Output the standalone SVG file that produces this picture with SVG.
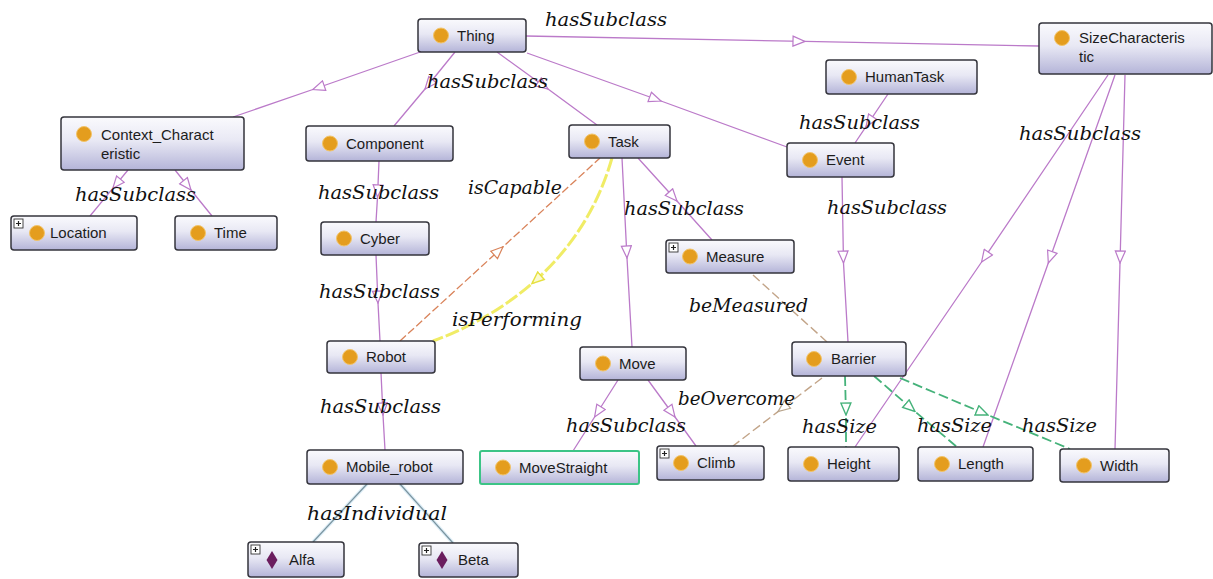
<svg xmlns="http://www.w3.org/2000/svg" width="1213" height="579" viewBox="0 0 1213 579">
  <defs>
    <linearGradient id="nodeFill" x1="0" y1="0" x2="0" y2="1">
      <stop offset="0" stop-color="#fafafd"/>
      <stop offset="0.45" stop-color="#e8e8f4"/>
      <stop offset="1" stop-color="#b4b4d8"/>
    </linearGradient>
    <marker id="triSub" viewBox="0 0 14 12" markerWidth="14" markerHeight="12" refX="13" refY="6" orient="auto" markerUnits="userSpaceOnUse">
      <path d="M1,1 L13,6 L1,11 Z" fill="#ffffff" stroke="#bb7ac9" stroke-width="1.2"/>
    </marker>
    <marker id="triCap" viewBox="0 0 14 12" markerWidth="14" markerHeight="12" refX="13" refY="6" orient="auto" markerUnits="userSpaceOnUse">
      <path d="M1,1 L13,6 L1,11 Z" fill="#ffffff" stroke="#d9835a" stroke-width="1.2"/>
    </marker>
    <marker id="triPerf" viewBox="0 0 14 12" markerWidth="14" markerHeight="12" refX="13" refY="6" orient="auto" markerUnits="userSpaceOnUse">
      <path d="M1,1 L13,6 L1,11 Z" fill="#fbfbd0" stroke="#e6e040" stroke-width="1.4"/>
    </marker>
    <marker id="triTan" viewBox="0 0 14 12" markerWidth="14" markerHeight="12" refX="13" refY="6" orient="auto" markerUnits="userSpaceOnUse">
      <path d="M1,1 L13,6 L1,11 Z" fill="#ffffff" stroke="#b8a48c" stroke-width="1.2"/>
    </marker>
    <marker id="triSize" viewBox="0 0 14 12" markerWidth="14" markerHeight="12" refX="13" refY="6" orient="auto" markerUnits="userSpaceOnUse">
      <path d="M1,1 L13,6 L1,11 Z" fill="#ffffff" stroke="#45b27a" stroke-width="1.4"/>
    </marker>
  </defs>
  <style>
    .box { fill: url(#nodeFill); stroke: #34343c; stroke-width: 1.5; }
    .sel { stroke: #3cc486; stroke-width: 2; }
    .cls { fill: #e49d1e; stroke: #f2c46a; stroke-width: 1; }
    .ind { fill: #6b1d5e; }
    .plus rect { fill: #ffffff; stroke: #333333; stroke-width: 0.9; }
    .plus path { stroke: #222222; stroke-width: 1.2; fill: none; }
    .name { font-family: "Liberation Sans", Arial, sans-serif; font-size: 15px; fill: #1c1c1c; }
    .lbl { font-family: "DejaVu Serif", "Liberation Serif", serif; font-style: italic; font-size: 19px; fill: #111111; }
    .sub { fill: none; stroke: #bb7ac9; stroke-width: 1.3; marker-mid: url(#triSub); }
    .cap { fill: none; stroke: #d9835a; stroke-width: 1.3; stroke-dasharray: 8 3; marker-mid: url(#triCap); }
    .perf { fill: none; stroke: #f0ec66; stroke-width: 3; stroke-dasharray: 14 3; marker-mid: url(#triPerf); }
    .tan { fill: none; stroke: #c2a488; stroke-width: 1.4; stroke-dasharray: 9 4; }
    .tanArr { marker-mid: url(#triTan); }
    .size { fill: none; stroke: #45b27a; stroke-width: 1.8; stroke-dasharray: 10 4; marker-mid: url(#triSize); }
    .indHalo { fill: none; stroke: #dcedf7; stroke-width: 3.5; }
    .indLine { fill: none; stroke: #7a939e; stroke-width: 1.2; }
  </style>

  <rect x="0" y="0" width="1213" height="579" fill="#ffffff"/>

  <!-- connectors -->
  <g id="connectors">
    <!-- hasSubclass -->
    <polyline class="sub" points="526,36 805,41.4 1039,46"/>
    <polyline class="sub" points="423,51 312.8,89.5 233,117"/>
    <polyline class="sub" points="455,52 425,89 394,126"/>
    <polyline class="sub" points="497,52 548,89 597,125"/>
    <polyline class="sub" points="527,53 661,101 787,147"/>
    <polyline class="sub" points="888,94 866,126.7 855,143"/>
    <polyline class="sub" points="842,177 843.5,263 848,342"/>
    <polyline class="sub" points="1108,75 981.6,262 855,447"/>
    <polyline class="sub" points="1115,75 1048.3,263 983,447"/>
    <polyline class="sub" points="1125,75 1120,263 1115,449"/>
    <polyline class="sub" points="128,170 112.8,188.4 90,216"/>
    <polyline class="sub" points="175,170 191,190 212,216"/>
    <polyline class="sub" points="379,161 377.5,197 376,222"/>
    <polyline class="sub" points="376,255 378,303 380,341"/>
    <polyline class="sub" points="381,373 383,415 385,450"/>
    <polyline class="sub" points="622,158 627,258 632,347"/>
    <polyline class="sub" points="638,158 677,201 712,240"/>
    <polyline class="sub" points="618,380 594.6,417 573,451"/>
    <polyline class="sub" points="648,380 675,417 696,446"/>

    <!-- isCapable -->
    <polyline class="cap" points="400,341 503,246.8 600,158"/>
    <!-- isPerforming -->
    <path class="perf" d="M612,158 C596,214 565.5,254.5 531.9,283.6 C498.25,312.75 461.5,330.5 433,341"/>
    <!-- beMeasured -->
    <line class="tan" x1="753" y1="275" x2="827" y2="342"/>
    <!-- beOvercome -->
    <polyline class="tan tanArr" points="822,378 778,411.6 733,446"/>

    <!-- hasSize -->
    <polyline class="size" points="845,376 846,415 846,447"/>
    <polyline class="size" points="874,376 915,411.5 957,447"/>
    <polyline class="size" points="900,378 988,415 1070,449"/>

    <!-- hasIndividual -->
    <line class="indHalo" x1="367" y1="484" x2="313" y2="542"/>
    <line class="indHalo" x1="400" y1="484" x2="453" y2="543"/>
    <line class="indLine" x1="367" y1="484" x2="313" y2="542"/>
    <line class="indLine" x1="400" y1="484" x2="453" y2="543"/>
  </g>

  <!-- edge labels -->
  <g id="edge-labels">
    <text class="lbl" x="545" y="26" textLength="122" lengthAdjust="spacingAndGlyphs">hasSubclass</text>
    <text class="lbl" x="427" y="88" textLength="121" lengthAdjust="spacingAndGlyphs">hasSubclass</text>
    <text class="lbl" x="799" y="129" textLength="121" lengthAdjust="spacingAndGlyphs">hasSubclass</text>
    <text class="lbl" x="1019" y="140" textLength="122" lengthAdjust="spacingAndGlyphs">hasSubclass</text>
    <text class="lbl" x="75" y="201" textLength="121" lengthAdjust="spacingAndGlyphs">hasSubclass</text>
    <text class="lbl" x="318" y="199" textLength="121" lengthAdjust="spacingAndGlyphs">hasSubclass</text>
    <text class="lbl" x="468" y="194" textLength="94" lengthAdjust="spacingAndGlyphs">isCapable</text>
    <text class="lbl" x="624" y="215" textLength="120" lengthAdjust="spacingAndGlyphs">hasSubclass</text>
    <text class="lbl" x="827" y="214" textLength="120" lengthAdjust="spacingAndGlyphs">hasSubclass</text>
    <text class="lbl" x="319" y="298" textLength="121" lengthAdjust="spacingAndGlyphs">hasSubclass</text>
    <text class="lbl" x="452" y="326" textLength="130" lengthAdjust="spacingAndGlyphs">isPerforming</text>
    <text class="lbl" x="689" y="312" textLength="119" lengthAdjust="spacingAndGlyphs">beMeasured</text>
    <text class="lbl" x="320" y="413" textLength="121" lengthAdjust="spacingAndGlyphs">hasSubclass</text>
    <text class="lbl" x="678" y="405" textLength="117" lengthAdjust="spacingAndGlyphs">beOvercome</text>
    <text class="lbl" x="566" y="432" textLength="120" lengthAdjust="spacingAndGlyphs">hasSubclass</text>
    <text class="lbl" x="802" y="433" textLength="75" lengthAdjust="spacingAndGlyphs">hasSize</text>
    <text class="lbl" x="917" y="432" textLength="75" lengthAdjust="spacingAndGlyphs">hasSize</text>
    <text class="lbl" x="1022" y="432" textLength="75" lengthAdjust="spacingAndGlyphs">hasSize</text>
    <text class="lbl" x="307" y="520" textLength="140" lengthAdjust="spacingAndGlyphs">hasIndividual</text>
  </g>

  <!-- nodes -->
  <g id="node-thing">
    <rect class="box" x="418" y="19" width="108" height="33" rx="3"/>
    <circle class="cls" cx="441" cy="35.5" r="7.5"/>
    <text class="name" x="457" y="41">Thing</text>
  </g>
  <g id="node-sizecharacteristic">
    <rect class="box" x="1039" y="23" width="173" height="51" rx="3"/>
    <circle class="cls" cx="1062" cy="38" r="7.5"/>
    <text class="name" x="1079" y="43">SizeCharacteris</text>
    <text class="name" x="1079" y="62">tic</text>
  </g>
  <g id="node-humantask">
    <rect class="box" x="826" y="60" width="151" height="34" rx="3"/>
    <circle class="cls" cx="849" cy="77" r="7.5"/>
    <text class="name" x="865" y="82">HumanTask</text>
  </g>
  <g id="node-context-characteristic">
    <rect class="box" x="61" y="117" width="183" height="53" rx="3"/>
    <circle class="cls" cx="84" cy="134" r="7.5"/>
    <text class="name" x="101" y="140">Context_Charact</text>
    <text class="name" x="101" y="159">eristic</text>
  </g>
  <g id="node-component">
    <rect class="box" x="306" y="126" width="147" height="35" rx="3"/>
    <circle class="cls" cx="330" cy="143.5" r="7.5"/>
    <text class="name" x="346" y="149">Component</text>
  </g>
  <g id="node-task">
    <rect class="box" x="569" y="125" width="101" height="33" rx="3"/>
    <circle class="cls" cx="592" cy="141.5" r="7.5"/>
    <text class="name" x="608" y="147">Task</text>
  </g>
  <g id="node-event">
    <rect class="box" x="787" y="143" width="107" height="34" rx="3"/>
    <circle class="cls" cx="810" cy="160" r="7.5"/>
    <text class="name" x="826" y="165">Event</text>
  </g>
  <g id="node-location">
    <rect class="box" x="11" y="216" width="126" height="34" rx="3"/>
    <g class="plus"><rect x="14" y="219" width="9" height="9"/><path d="M16,223.5 H21 M18.5,221 V226"/></g>
    <circle class="cls" cx="37" cy="233" r="7.5"/>
    <text class="name" x="50" y="238">Location</text>
  </g>
  <g id="node-time">
    <rect class="box" x="175" y="216" width="102" height="34" rx="3"/>
    <circle class="cls" cx="198" cy="233" r="7.5"/>
    <text class="name" x="214" y="238">Time</text>
  </g>
  <g id="node-cyber">
    <rect class="box" x="321" y="222" width="108" height="33" rx="3"/>
    <circle class="cls" cx="344" cy="238.5" r="7.5"/>
    <text class="name" x="360" y="244">Cyber</text>
  </g>
  <g id="node-measure">
    <rect class="box" x="666" y="240" width="128" height="33" rx="3"/>
    <g class="plus"><rect x="669" y="243" width="9" height="9"/><path d="M671,247.5 H676 M673.5,245 V250"/></g>
    <circle class="cls" cx="690" cy="256.5" r="7.5"/>
    <text class="name" x="706" y="262">Measure</text>
  </g>
  <g id="node-robot">
    <rect class="box" x="327" y="341" width="108" height="32" rx="3"/>
    <circle class="cls" cx="350" cy="357" r="7.5"/>
    <text class="name" x="366" y="362">Robot</text>
  </g>
  <g id="node-move">
    <rect class="box" x="580" y="347" width="106" height="33" rx="3"/>
    <circle class="cls" cx="603" cy="363.5" r="7.5"/>
    <text class="name" x="619" y="369">Move</text>
  </g>
  <g id="node-barrier">
    <rect class="box" x="792" y="342" width="114" height="34" rx="3"/>
    <circle class="cls" cx="814" cy="359" r="7.5"/>
    <text class="name" x="831" y="364">Barrier</text>
  </g>
  <g id="node-mobile-robot">
    <rect class="box" x="307" y="450" width="156" height="34" rx="3"/>
    <circle class="cls" cx="330" cy="467" r="7.5"/>
    <text class="name" x="346" y="472">Mobile_robot</text>
  </g>
  <g id="node-movestraight">
    <rect class="box sel" x="480" y="451" width="159" height="33" rx="2"/>
    <circle class="cls" cx="503" cy="467.5" r="7.5"/>
    <text class="name" x="519" y="473">MoveStraight</text>
  </g>
  <g id="node-climb">
    <rect class="box" x="657" y="446" width="107" height="34" rx="3"/>
    <g class="plus"><rect x="660" y="449" width="9" height="9"/><path d="M662,453.5 H667 M664.5,451 V456"/></g>
    <circle class="cls" cx="681" cy="463" r="7.5"/>
    <text class="name" x="697" y="468">Climb</text>
  </g>
  <g id="node-height">
    <rect class="box" x="788" y="447" width="111" height="34" rx="3"/>
    <circle class="cls" cx="811" cy="464" r="7.5"/>
    <text class="name" x="827" y="469">Height</text>
  </g>
  <g id="node-length">
    <rect class="box" x="918" y="447" width="115" height="34" rx="3"/>
    <circle class="cls" cx="942" cy="464" r="7.5"/>
    <text class="name" x="958" y="469">Length</text>
  </g>
  <g id="node-width">
    <rect class="box" x="1060" y="449" width="109" height="33" rx="3"/>
    <circle class="cls" cx="1084" cy="465.5" r="7.5"/>
    <text class="name" x="1100" y="471">Width</text>
  </g>
  <g id="node-alfa">
    <rect class="box" x="248" y="542" width="96" height="35" rx="3"/>
    <g class="plus"><rect x="251" y="545" width="9" height="9"/><path d="M253,549.5 H258 M255.5,547 V552"/></g>
    <polygon class="ind" points="272,551 277.5,560 272,569 266.5,560"/>
    <text class="name" x="289" y="565">Alfa</text>
  </g>
  <g id="node-beta">
    <rect class="box" x="419" y="543" width="99" height="34" rx="3"/>
    <g class="plus"><rect x="422" y="546" width="9" height="9"/><path d="M424,550.5 H429 M426.5,548 V553"/></g>
    <polygon class="ind" points="442,551 447.5,560 442,569 436.5,560"/>
    <text class="name" x="458" y="565">Beta</text>
  </g>
</svg>
